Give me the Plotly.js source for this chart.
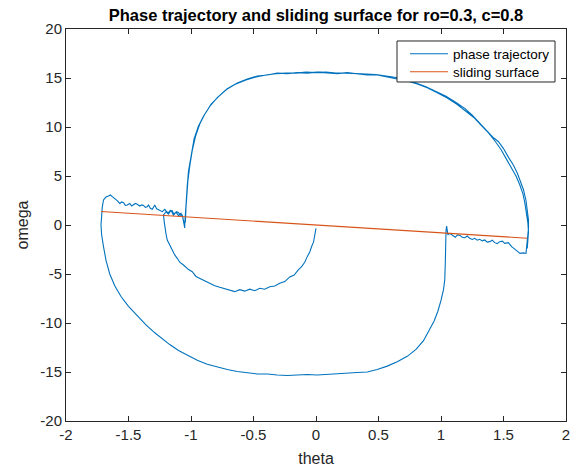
<!DOCTYPE html>
<html>
<head>
<meta charset="utf-8">
<script src="https://cdn.plot.ly/plotly-3.0.1.min.js"></script>
<style>html,body{margin:0;padding:0;background:#fff;}#plot{width:576px;height:467px;}</style>
</head>
<body>
<div id="plot"></div>
<script>
// ---- Data ----
// inner spiral from the start point down and round to the sliding surface
const innerTheta = [0.00,-0.005,-0.01,-0.02,-0.035,-0.05,-0.07,-0.09,-0.115,-0.14,-0.175,-0.21,-0.25,-0.29,-0.33,-0.37,-0.41,-0.45,-0.49,-0.53,-0.57,-0.61,-0.65,-0.69,-0.73,-0.77,-0.81,-0.85,-0.89,-0.93,-0.96,-0.99,-1.02,-1.06,-1.09,-1.11,-1.13,-1.15,-1.17,-1.19,-1.20,-1.21,-1.215,-1.22];
const innerOmega = [-0.34,-0.8,-1.19,-1.75,-2.2,-2.75,-3.23,-3.8,-4.25,-4.55,-5.1,-5.3,-5.78,-5.95,-6.22,-6.3,-6.56,-6.45,-6.7,-6.55,-6.75,-6.6,-6.8,-6.63,-6.5,-6.36,-6.2,-5.95,-5.75,-5.44,-5.25,-4.77,-4.55,-4.08,-3.8,-3.4,-3.05,-2.55,-2.1,-1.53,-0.9,-0.17,0.4,1.02];
// short chattering along the surface on the left
const chat1Theta = [-1.20,-1.18,-1.16,-1.14,-1.12,-1.10,-1.08,-1.065,-1.055,-1.05];
const chat1Omega = [1.35,1.1,1.5,1.0,1.3,0.95,1.2,0.7,0.1,-0.3];
// upper arc, first pass
const top1Theta = [-1.05,-1.045,-1.04,-1.03,-1.02,-1.00,-0.975,-0.94,-0.90,-0.85,-0.79,-0.72,-0.64,-0.56,-0.48,-0.40,-0.32,-0.24,-0.16,-0.08,0.00,0.08,0.16,0.24,0.32,0.40,0.48,0.56,0.64,0.72,0.80,0.88,0.96,1.04,1.12,1.19,1.25,1.31,1.37,1.42,1.46,1.50,1.54,1.58,1.61,1.64,1.66,1.68,1.69,1.70,1.70,1.695,1.69,1.68];
const top1Omega = [0.1,1.5,2.55,4.0,5.5,7.0,8.8,10.1,11.1,12.1,13.0,13.8,14.4,14.8,15.1,15.3,15.45,15.5,15.5,15.6,15.55,15.6,15.5,15.5,15.45,15.4,15.35,15.2,15.05,14.8,14.5,14.1,13.65,13.15,12.5,11.9,11.2,10.4,9.6,8.9,8.5,7.8,6.9,6.1,5.3,4.3,3.6,2.5,1.5,0.5,-0.3,-1.2,-2.0,-2.9];
// chattering on the right
const chatRTheta = [1.66,1.632,1.605,1.585,1.565,1.539,1.51,1.49,1.47,1.45,1.43,1.41,1.39,1.37,1.35,1.33,1.31,1.29,1.27,1.25,1.23,1.21,1.19,1.17,1.15,1.13,1.115,1.10,1.085,1.07,1.055,1.05,1.045,1.04];
const chatROmega = [-2.85,-2.89,-2.62,-2.45,-2.21,-1.80,-1.87,-1.65,-1.70,-1.90,-1.80,-1.55,-1.70,-1.75,-1.53,-1.62,-1.46,-1.55,-1.36,-1.48,-1.36,-1.12,-1.30,-1.26,-1.05,-1.02,-1.25,-1.12,-0.95,-0.85,-1.0,-0.5,-0.1,-0.6];
// lower arc
const lowTheta = [1.04,1.035,1.03,1.02,1.00,0.975,0.945,0.905,0.86,0.80,0.73,0.65,0.57,0.49,0.41,0.33,0.25,0.17,0.09,0.01,-0.07,-0.15,-0.23,-0.31,-0.39,-0.47,-0.55,-0.63,-0.71,-0.79,-0.87,-0.95,-1.03,-1.10,-1.17,-1.23,-1.29,-1.36,-1.43,-1.50,-1.56,-1.61,-1.65,-1.68,-1.70,-1.715,-1.72,-1.715];
const lowOmega = [-1.5,-3.6,-5.6,-6.6,-7.7,-8.8,-9.8,-10.8,-11.8,-12.7,-13.4,-13.95,-14.4,-14.75,-15.0,-15.05,-15.1,-15.2,-15.2,-15.3,-15.25,-15.3,-15.35,-15.3,-15.2,-15.2,-15.1,-14.95,-14.75,-14.5,-14.2,-13.8,-13.3,-12.8,-12.2,-11.6,-11.0,-10.2,-9.3,-8.3,-7.3,-6.2,-5.0,-3.6,-2.2,-1.0,0.0,1.0];
// chattering on the left
const chatLTheta = [-1.71,-1.70,-1.68,-1.66,-1.645,-1.63,-1.61,-1.59,-1.57,-1.555,-1.54,-1.525,-1.51,-1.49,-1.475,-1.46,-1.445,-1.43,-1.41,-1.395,-1.38,-1.365,-1.35,-1.34,-1.325,-1.31,-1.30,-1.29,-1.275,-1.26,-1.245,-1.23,-1.21,-1.195,-1.18,-1.165,-1.15,-1.14,-1.13,-1.115,-1.10,-1.085,-1.07,-1.06,-1.055,-1.05];
const chatLOmega = [1.8,2.55,2.85,2.96,3.06,2.9,2.72,2.48,2.2,2.35,2.28,2.0,2.04,2.2,1.95,2.04,2.2,2.11,1.94,2.05,2.0,1.8,1.87,2.04,1.7,1.6,1.85,2.04,1.65,1.53,1.45,1.36,1.6,1.35,1.26,1.5,1.46,1.15,1.19,1.35,1.26,1.0,1.02,0.6,0.17,0.3];
// upper arc, second pass
const top2Theta = [-1.045,-1.04,-1.035,-1.025,-1.01,-0.99,-0.965,-0.93,-0.89,-0.84,-0.78,-0.71,-0.63,-0.55,-0.47,-0.39,-0.31,-0.23,-0.15,-0.07,0.01,0.09,0.17,0.25,0.33,0.41,0.49,0.57,0.65,0.73,0.81,0.89,0.97,1.05,1.13,1.20,1.26,1.32,1.38,1.43,1.48,1.52,1.56,1.60,1.63,1.655,1.67,1.685,1.695,1.70,1.695,1.69];
const top2Omega = [0.3,1.8,3.0,4.5,6.0,7.6,9.0,10.3,11.3,12.3,13.1,13.9,14.5,14.9,15.2,15.3,15.5,15.45,15.55,15.5,15.6,15.5,15.45,15.55,15.4,15.3,15.3,15.1,14.95,14.7,14.4,14.0,13.5,12.95,12.3,11.6,11.0,10.2,9.4,8.6,7.7,6.8,5.9,5.0,4.1,3.2,2.3,1.2,0.2,-0.7,-1.6,-2.4];
// sliding surface end points
const surfTheta = [-1.72, 1.69];
const surfOmega = [1.376, -1.352];
// tick values and labels
const xTickVals = [-2,-1.5,-1,-0.5,0,0.5,1,1.5,2];
const xTickText = ["-2","-1.5","-1","-0.5","0","0.5","1","1.5","2"];
const yTickVals = [-20,-15,-10,-5,0,5,10,15,20];
const yTickText = ["-20","-15","-10","-5","0","5","10","15","20"];

const trajTheta = [].concat(innerTheta, chat1Theta, top1Theta, chatRTheta, lowTheta, chatLTheta, top2Theta);
const trajOmega = [].concat(innerOmega, chat1Omega, top1Omega, chatROmega, lowOmega, chatLOmega, top2Omega);

const axisColor = '#262626';
const fontFam = '"Liberation Sans", Arial, sans-serif';

const traces = [
  {x: trajTheta, y: trajOmega, type: 'scatter', mode: 'lines', name: 'phase trajectory',
   line: {color: '#0072BD', width: 1.1}, legend: 'legend'},
  {x: surfTheta, y: surfOmega, type: 'scatter', mode: 'lines', name: 'sliding surface',
   line: {color: '#D95319', width: 1.1}, legend: 'legend2'}
];

const axisCommon = {
  showgrid: false, zeroline: false, showline: true, linecolor: axisColor, linewidth: 1,
  mirror: 'ticks', ticks: 'inside', ticklen: 5, tickwidth: 1, tickcolor: axisColor,
  tickfont: {family: fontFam, size: 15, color: axisColor}
};

const legendCommon = {x: 0.678, xanchor: 'left', yanchor: 'middle', bgcolor: 'rgba(0,0,0,0)',
  borderwidth: 0, itemwidth: 38, font: {family: fontFam, size: 13.5, color: '#000000'}, tracegroupgap: 0};

const layout = {
  width: 576, height: 467,
  margin: {l: 66, r: 10, t: 29, b: 46},
  paper_bgcolor: '#ffffff', plot_bgcolor: '#ffffff',
  font: {family: fontFam, color: axisColor},
  title: {text: '<b>Phase trajectory and sliding surface for ro=0.3, c=0.8</b>',
          font: {family: fontFam, size: 16.5, color: '#000000'},
          x: 0.5, xref: 'paper', xanchor: 'center', y: 1 - 15/467, yref: 'container', yanchor: 'middle'},
  xaxis: Object.assign({}, axisCommon, {range: [-2, 2], tickmode: 'array', tickvals: xTickVals, ticktext: xTickText,
          title: {text: 'theta', font: {family: fontFam, size: 16, color: axisColor}, standoff: 10}}),
  yaxis: Object.assign({}, axisCommon, {range: [-20, 20], tickmode: 'array', tickvals: yTickVals, ticktext: yTickText,
          title: {text: 'omega', font: {family: fontFam, size: 16, color: axisColor}, standoff: 7}}),
  showlegend: true,
  legend: Object.assign({}, legendCommon, {y: 0.9362}),
  legend2: Object.assign({}, legendCommon, {y: 0.8903}),
  shapes: [{type: 'rect', xref: 'paper', yref: 'paper', x0: 0.662, x1: 0.978, y0: 0.8648, y1: 0.9694,
            line: {color: axisColor, width: 1}, fillcolor: '#ffffff', layer: 'above'}]
};

Plotly.newPlot('plot', traces, layout, {displayModeBar: false, staticPlot: true});
</script>
</body>
</html>
